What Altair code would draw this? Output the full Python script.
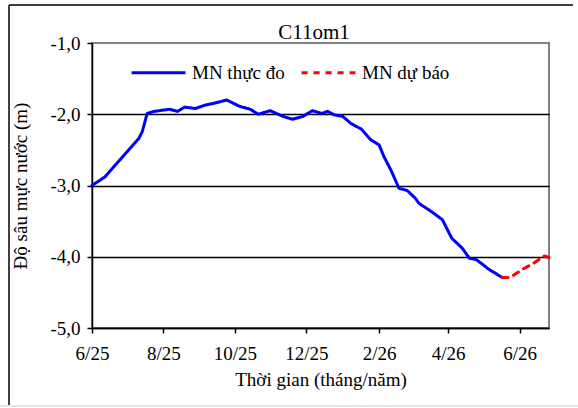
import altair as alt
import pandas as pd

# Observed groundwater level (MN thực đo)
obs_dates = [
    "2025-06-01", "2025-06-12", "2025-07-11", "2025-07-14", "2025-07-18", "2025-07-24",
    "2025-08-06", "2025-08-13", "2025-08-19", "2025-08-28", "2025-09-06", "2025-09-12",
    "2025-09-24", "2025-10-05", "2025-10-14", "2025-10-21", "2025-10-31", "2025-11-11",
    "2025-11-19", "2025-11-28", "2025-12-06", "2025-12-14", "2025-12-19", "2025-12-25",
    "2026-01-01", "2026-01-08", "2026-01-17", "2026-01-25", "2026-02-01", "2026-02-05",
    "2026-02-11", "2026-02-18", "2026-02-25", "2026-03-04", "2026-03-07", "2026-03-18",
    "2026-03-27", "2026-04-04", "2026-04-13", "2026-04-19", "2026-04-25", "2026-05-06",
    "2026-05-17",
]
obs_values = [
    -3.00, -2.88, -2.34, -2.24, -1.99, -1.96,
    -1.93, -1.96, -1.90, -1.92, -1.87, -1.85,
    -1.80, -1.89, -1.93, -2.00, -1.95, -2.03,
    -2.07, -2.03, -1.95, -1.99, -1.96, -2.01,
    -2.03, -2.13, -2.21, -2.36, -2.43, -2.59,
    -2.78, -3.04, -3.07, -3.18, -3.25, -3.37,
    -3.48, -3.74, -3.88, -4.02, -4.04, -4.18,
    -4.29,
]

# Forecast groundwater level (MN dự báo)
fc_dates = ["2026-05-17", "2026-05-24", "2026-06-03", "2026-06-13", "2026-06-22", "2026-06-26"]
fc_values = [-4.29, -4.29, -4.18, -4.09, -3.99, -4.01]

series_names = ["MN thực đo", "MN dự báo"]
series_colors = ["#0000FF", "#FF0000"]
chart_title = "C11om1"

y_ticks = [-5, -4, -3, -2, -1]
x_tick_months = [(2025, 6), (2025, 8), (2025, 10), (2025, 12), (2026, 2), (2026, 4), (2026, 6)]

df = pd.concat([
    pd.DataFrame({"date": obs_dates, "value": obs_values, "series": series_names[0]}),
    pd.DataFrame({"date": fc_dates, "value": fc_values, "series": series_names[1]}),
], ignore_index=True)

FONT = "Liberation Serif"

x_values = [alt.DateTime(year=y, month=m, date=1, utc=True) for y, m in x_tick_months]

legend_kw = dict(
    title=None,
    orient="none",
    legendX=38,
    legendY=1,
    direction="horizontal",
    symbolType="stroke",
    symbolSize=2900,
    symbolStrokeWidth=3,
    labelFont=FONT,
    labelFontSize=19,
    labelColor="black",
    labelOffset=5,
    columnPadding=10,
)

axis_style = dict(
    labelFont=FONT,
    labelFontSize=19,
    labelColor="black",
    titleFont=FONT,
    titleFontSize=19,
    titleFontWeight="normal",
    titleColor="black",
    domainColor="black",
    domainWidth=1.5,
    tickColor="black",
    tickWidth=1.5,
    tickSize=5,
    labelFlush=False,
)

lines = alt.Chart(df).mark_line(strokeWidth=3, strokeCap="round", strokeJoin="round").encode(
    x=alt.X(
        "date:T",
        scale=alt.Scale(
            type="utc",
            domain=[alt.DateTime(year=2025, month=6, date=1, utc=True),
                    alt.DateTime(year=2026, month=6, date=26, utc=True)],
            nice=False,
        ),
        axis=alt.Axis(
            values=x_values,
            labelExpr="utcFormat(datum.value, '%-m/%y')",
            title="Thời gian  (tháng/năm)",
            grid=False,
            labelPadding=11,
            titlePadding=7,
            **axis_style,
        ),
    ),
    y=alt.Y(
        "value:Q",
        scale=alt.Scale(domain=[-5, -1], nice=False, zero=False),
        axis=alt.Axis(
            values=y_ticks,
            labelExpr="(datum.value < 0 ? '-' : '') + replace(format(abs(datum.value), '.1f'), '.', ',')",
            title="Độ sâu mực nước (m)",
            grid=True,
            gridColor={"condition": {"test": "datum.value == -1", "value": "transparent"}, "value": "black"},
            gridWidth=1.5,
            labelPadding=7,
            titlePadding=19,
            **axis_style,
        ),
    ),
    color=alt.Color(
        "series:N",
        scale=alt.Scale(domain=series_names, range=series_colors),
        legend=alt.Legend(**legend_kw),
    ),
    strokeDash=alt.StrokeDash(
        "series:N",
        scale=alt.Scale(domain=series_names, range=[[1, 0], [6, 6]]),
        legend=alt.Legend(**legend_kw),
    ),
    order=alt.Order("date:T"),
)

one = pd.DataFrame({"k": [0]})
frame_left = alt.Chart(one).mark_rule(color="black", strokeWidth=1.5, clip=False).encode(
    x=alt.value(-83), y=alt.value(-38), y2=alt.value(362)
)
frame_top = alt.Chart(one).mark_rule(color="black", strokeWidth=1.5, clip=False).encode(
    x=alt.value(-83), x2=alt.value(481), y=alt.value(-38)
)
frame_bottom = alt.Chart(one).mark_rule(color="#dddddd", strokeWidth=1.5, clip=False).encode(
    x=alt.value(-92), x2=alt.value(486), y=alt.value(363)
)
title_text = alt.Chart(one).mark_text(
    text=chart_title, font=FONT, fontSize=21, color="black",
    align="center", baseline="alphabetic", clip=False,
).encode(x=alt.value(222), y=alt.value(-4))

chart = alt.layer(frame_left, frame_top, frame_bottom, title_text, lines).properties(
    width=457,
    height=285,
    autosize="none",
    padding={"left": 92, "top": 43, "right": 29, "bottom": 80},
    background="white",
).configure_view(
    stroke="#808080", strokeWidth=2
)

chart.save("out.html", embed_options={"renderer": "svg", "actions": False})
